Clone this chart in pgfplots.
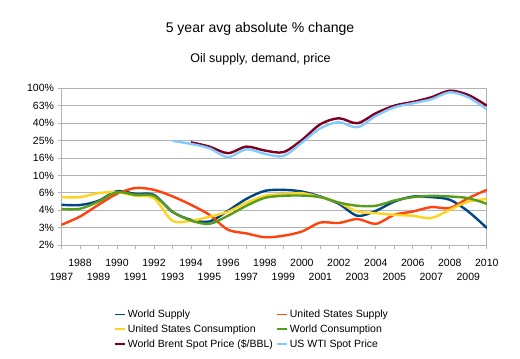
\documentclass[border=0pt]{standalone}
\usepackage{pgfplots}
\pgfplotsset{compat=1.18}
\usepackage{fontspec}
\setmainfont{Liberation Sans}
\definecolor{cWS}{HTML}{004586}
\definecolor{cUSS}{HTML}{FF420E}
\definecolor{cUSC}{HTML}{FFD320}
\definecolor{cWC}{HTML}{579D1C}
\definecolor{cBR}{HTML}{7E0021}
\definecolor{cWTI}{HTML}{83CAFF}
\definecolor{gridc}{HTML}{B3B3B3}
\begin{document}
\begin{tikzpicture}
\path[use as bounding box] (0,0) rectangle (520pt,359pt);
\node[font=\fontsize{14}{16}\selectfont] at (260pt,330.5pt) {5 year avg absolute \% change};
\node[font=\fontsize{12.5}{14}\selectfont] at (260.5pt,299.5pt) {Oil supply, demand, price};
\begin{axis}[
  at={(61.5pt,113.9pt)}, anchor=south west,
  scale only axis, width=425.3pt, height=156.8pt,
  xmin=1987, xmax=2010,
  ymode=log, ymin=1.585, ymax=100,
  ytick={1.585,2.512,3.981,6.310,10,15.85,25.12,39.81,63.10,100},
  yticklabels={2\%,3\%,4\%,6\%,10\%,16\%,25\%,40\%,63\%,100\%},
  xtick={1988,1990,...,2010},
  xticklabel={\pgfmathprintnumber[1000 sep={}]{\tick}},
  extra x ticks={1987,1989,...,2009},
  extra x tick style={xticklabel style={yshift=-14pt}, grid=none},
  extra x tick labels={1987,1989,1991,1993,1995,1997,1999,2001,2003,2005,2007,2009},
  xticklabel style={anchor=north, font=\fontsize{10.5}{12}\selectfont, yshift=-6.5pt},
  yticklabel style={font=\fontsize{10.5}{12}\selectfont},
  /pgf/number format/assume math mode=true,
  xtick pos=bottom, ytick pos=left,
  tick align=outside,
  major tick length=4pt,
  tick style={gridc, line width=0.8pt},
  axis line style={gridc, line width=0.8pt},
  ymajorgrids, grid style={gridc, line width=0.8pt},
  minor tick num=0,
  legend columns=2,
  legend cell align=left,
  legend style={at={(0.1225,-0.398)}, anchor=north west, draw=none,
     font=\fontsize{10.5}{12}\selectfont, row sep=1.8pt,
     /tikz/every even column/.append style={column sep=1pt},
     inner sep=0pt},
  legend image code/.code={\draw[#1, line width=1.5pt] (0pt,0pt) -- (10.5pt,0pt);},
  every axis plot/.append style={line width=2.4pt, smooth, no markers},
]
% World Supply
\addplot[cWS] coordinates {
(1987,4.60)(1988,4.57)(1989,5.11)(1990,6.60)(1991,6.14)(1992,5.98)(1993,3.82)(1994,3.09)(1995,2.96)(1996,3.92)(1997,5.38)(1998,6.65)(1999,6.83)(2000,6.53)(2001,5.72)(2002,4.72)(2003,3.44)(2004,3.92)(2005,5.01)(2006,5.72)(2007,5.63)(2008,5.25)(2009,3.85)(2010,2.49)};
\addlegendentry{World Supply}
% US Supply
\addplot[cUSS] coordinates {
(1987,2.71)(1988,3.37)(1989,4.60)(1990,6.14)(1991,7.17)(1992,6.83)(1993,5.75)(1994,4.60)(1995,3.53)(1996,2.38)(1997,2.16)(1998,1.95)(1999,2.03)(2000,2.27)(2001,2.88)(2002,2.84)(2003,3.16)(2004,2.78)(2005,3.53)(2006,3.85)(2007,4.33)(2008,4.22)(2009,5.48)(2010,6.83)};
\addlegendentry{United States Supply}
% US Consumption
\addplot[cUSC] coordinates {
(1987,5.63)(1988,5.63)(1989,6.26)(1990,6.43)(1991,5.83)(1992,5.48)(1993,3.01)(1994,3.01)(1995,3.35)(1996,3.82)(1997,4.85)(1998,5.83)(1999,6.09)(2000,6.26)(2001,5.63)(2002,4.88)(2003,3.85)(2004,3.69)(2005,3.53)(2006,3.44)(2007,3.24)(2008,4.03)(2009,5.01)(2010,5.34)};
\addlegendentry{United States Consumption}
% World Consumption
\addplot[cWC] coordinates {
(1987,4.11)(1988,4.14)(1989,5.01)(1990,6.43)(1991,5.98)(1992,5.83)(1993,3.82)(1994,3.03)(1995,2.78)(1996,3.44)(1997,4.48)(1998,5.53)(1999,5.83)(2000,5.87)(2001,5.63)(2002,4.88)(2003,4.48)(2004,4.48)(2005,5.15)(2006,5.63)(2007,5.83)(2008,5.73)(2009,5.48)(2010,4.72)};
\addlegendentry{World Consumption}
% Brent
\addplot[cBR] coordinates {
(1994,24.0)(1995,21.4)(1996,18.0)(1997,21.4)(1998,19.3)(1999,18.5)(2000,25.5)(2001,38.7)(2002,45.3)(2003,39.7)(2004,51.7)(2005,63.2)(2006,69.7)(2007,78.9)(2008,93.9)(2009,83.8)(2010,63.2)};
\addlegendentry{World Brent Spot Price (\$/BBL)}
% WTI
\addplot[cWTI] coordinates {
(1993,24.9)(1994,23.0)(1995,20.5)(1996,16.2)(1997,20.0)(1998,17.7)(1999,16.7)(2000,23.8)(2001,34.8)(2002,40.8)(2003,35.7)(2004,48.2)(2005,60.5)(2006,67.3)(2007,74.8)(2008,90.0)(2009,78.9)(2010,57.4)};
\addlegendentry{US WTI Spot Price}
\end{axis}
\end{tikzpicture}
\end{document}
